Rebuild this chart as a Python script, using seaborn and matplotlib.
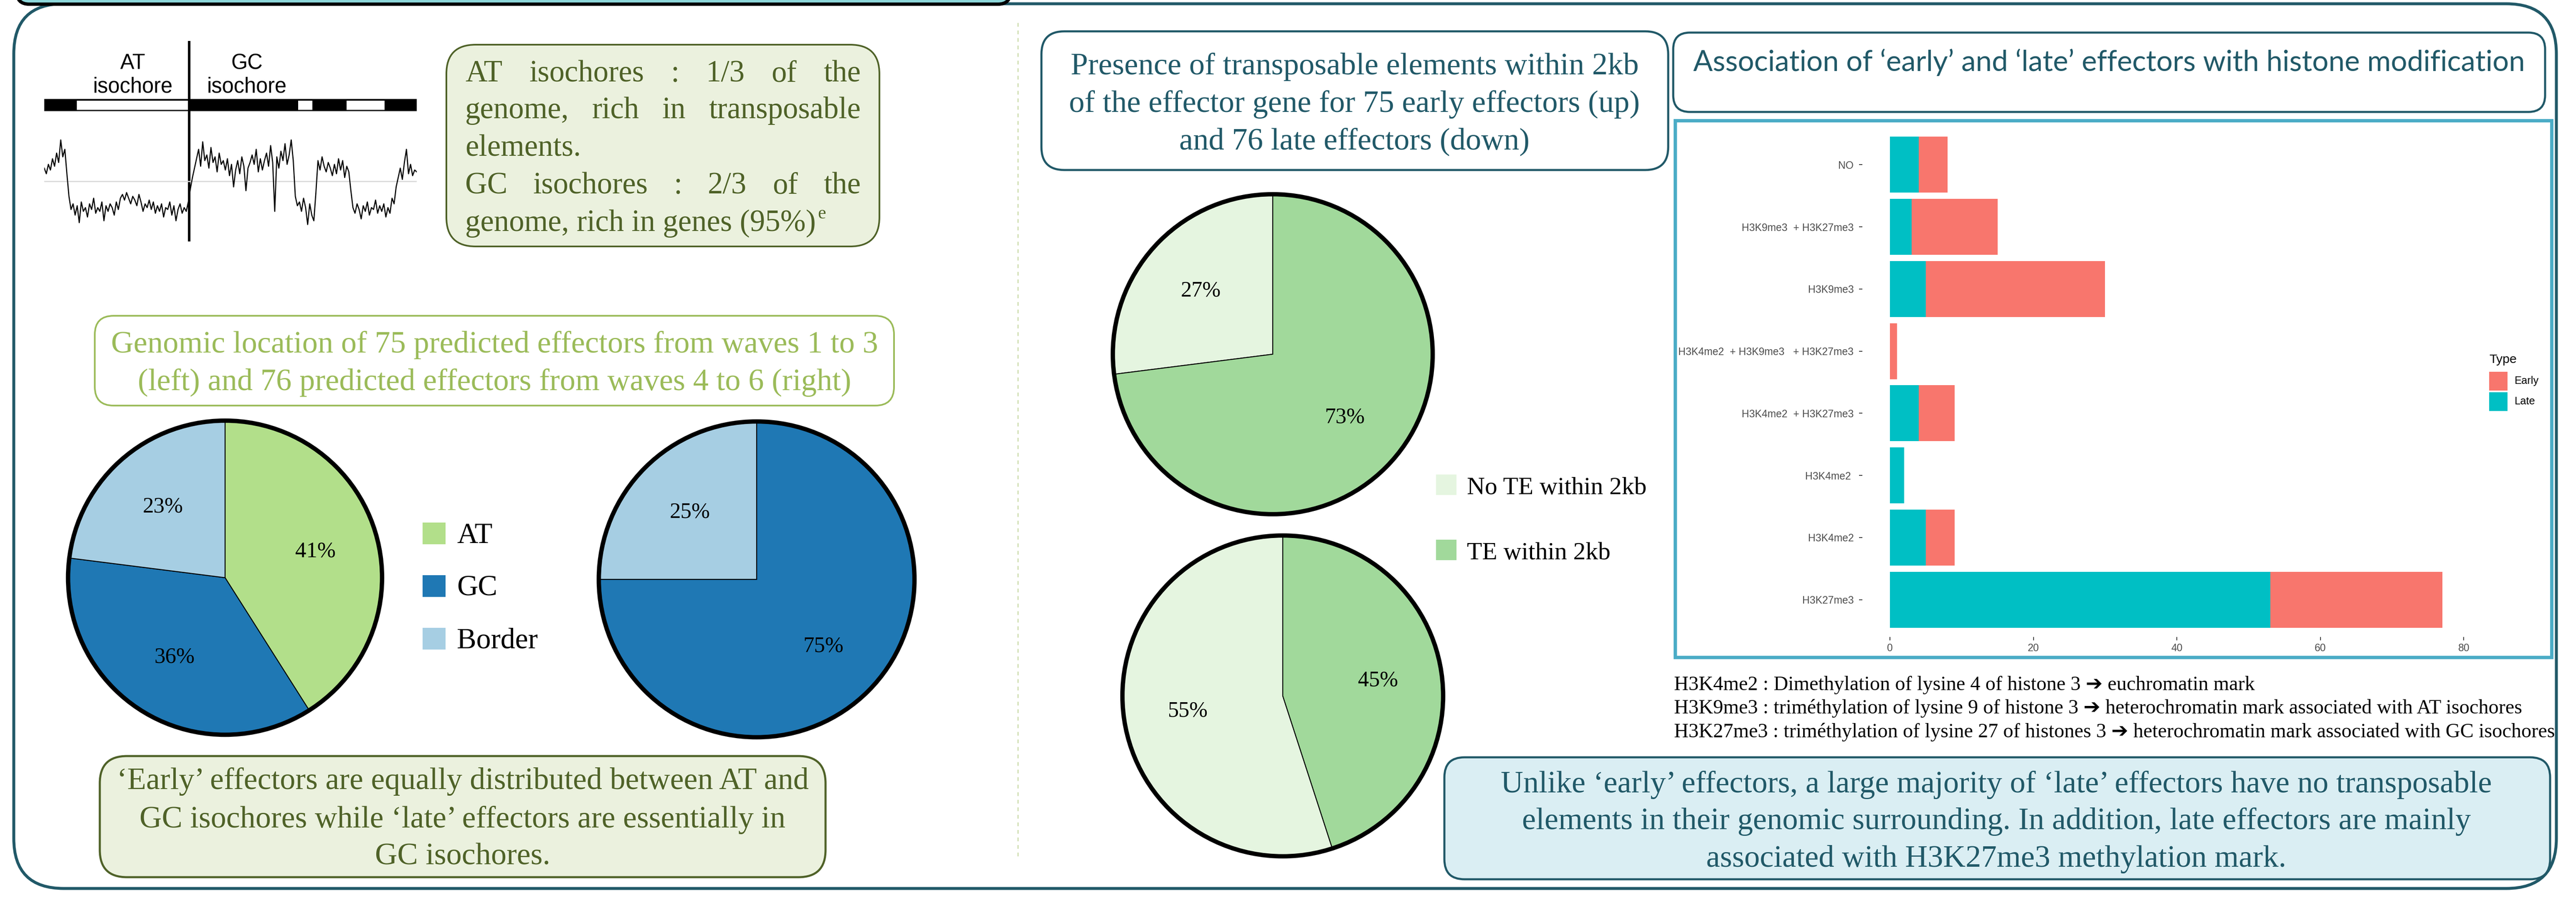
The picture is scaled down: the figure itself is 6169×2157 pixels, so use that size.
import numpy as np
import pandas as pd
import matplotlib
matplotlib.use("Agg")
import matplotlib.pyplot as plt
from matplotlib.patches import FancyBboxPatch, Rectangle, Circle
import seaborn as sns

# ---------------------------------------------------------------- data
iso_categories = ["AT", "GC", "Border"]
early_location_pct = [41, 36, 23]
late_location_pct = [0, 75, 25]

te_categories = ["No TE within 2kb", "TE within 2kb"]
early_te_pct = [27, 73]
late_te_pct = [55, 45]

histone_marks = ["NO", "H3K9me3  + H3K27me3", "H3K9me3",
                 "H3K4me2  + H3K9me3   + H3K27me3", "H3K4me2  + H3K27me3",
                 "H3K4me2 ", "H3K4me2", "H3K27me3"]
late_counts = [4, 3, 5, 0, 4, 2, 5, 53]
early_counts = [4, 12, 25, 1, 5, 0, 4, 24]
count_ticks = [0, 20, 40, 60, 80]

# GC content along the example region (%), and the genome-wide mean
gc_trace = [53.5, 52.0, 54.5, 53.0, 56.0, 54.0, 57.5, 55.0, 61.0, 56.5, 58.5, 52.0, 46.0,
            42.5, 44.0, 41.0, 43.5, 39.0, 44.5, 42.0, 43.0, 40.5, 44.0, 42.5, 45.5, 41.5,
            43.0, 42.0, 44.5, 39.5, 43.5, 42.0, 44.0, 43.0, 41.0, 44.5, 42.5, 45.5, 46.5,
            45.0, 47.0, 45.5, 44.0, 46.0, 45.0, 43.5, 46.5, 44.5, 42.0, 44.0, 43.0, 45.0,
            42.5, 44.5, 41.5, 43.5, 42.0, 44.0, 40.5, 43.0, 42.5, 44.5, 41.0, 43.5, 39.5,
            42.5, 44.0, 41.5, 43.0, 42.0,
            44.5, 48.0, 51.0, 53.5,
            56.0, 58.5, 54.0, 60.5, 55.5, 57.0, 53.5, 59.0, 55.0, 56.5, 52.5, 57.5, 54.5,
            55.5, 53.0, 56.0, 51.5, 54.5, 48.5, 53.0, 55.5, 52.0, 56.5, 54.0, 47.5, 53.5,
            55.0, 57.0, 54.5, 58.5, 52.5, 56.0, 53.0, 55.5, 57.5, 54.0, 59.5, 55.0, 42.0,
            56.5, 53.5, 58.0, 55.5, 60.0, 54.5, 57.0, 61.0, 55.5,
            46.0,
            43.5, 44.5, 42.0, 45.5, 43.0, 38.5, 44.0, 41.0, 39.5,
            47.0,
            55.5, 53.0, 56.5, 54.0, 52.5, 55.0, 53.5, 51.5, 54.5, 52.0, 56.0, 53.0, 55.5,
            51.0, 54.0, 52.5,
            47.5,
            43.0, 41.5, 44.0, 42.5, 40.0, 43.5, 42.0, 44.5, 41.0, 43.0, 42.5, 45.0, 41.5,
            43.5, 42.0, 44.0, 40.5, 43.0, 41.5, 45.5, 44.0,
            48.5,
            51.0, 53.5, 50.5, 55.0, 58.5, 52.0, 54.5, 51.5, 53.0, 52.5]
gc_mean = 50
# isochore map along the same region (% of region length)
at_blocks = [(8.7, 38.6), (68.2, 72.0), (81.2, 91.4)]
isochore_boundary = 38.9

# ---------------------------------------------------------------- style
W, H, DPI = 6169, 2157, 100
SERIF = ["Liberation Serif", "DejaVu Serif", "DejaVu Sans"]
SANS = ["Liberation Sans", "DejaVu Sans"]
TITLE_SANS = ["Lato", "DejaVu Sans"]

TEAL = "#215968"
OLIVE = "#4F6228"
OLIVE_FILL = "#EBF1DE"
LIGHT_GREEN = "#9BBB59"
AQUA = "#4BACC6"
AQUA_FILL = "#DAEEF3"

paired = sns.color_palette("Paired")
iso_colors = {"AT": paired[2], "GC": paired[1], "Border": paired[0]}
te_colors = {"No TE within 2kb": "#E5F5E0", "TE within 2kb": "#A1D99B"}
type_colors = {"Early": "#F8766D", "Late": "#00BFC4"}

fig = plt.figure(figsize=(W / DPI, H / DPI), dpi=DPI)
fig.patch.set_facecolor("white")
bg = fig.add_axes([0, 0, 1, 1])
bg.set_xlim(0, W)
bg.set_ylim(H, 0)
bg.axis("off")
renderer = fig.canvas.get_renderer()


def frac_box(x0, y0, x1, y1):
    return [x0 / W, 1 - y1 / H, (x1 - x0) / W, (y1 - y0) / H]


def measure(s, size, family):
    t = bg.text(0, 0, s, fontsize=size, family=family)
    w = t.get_window_extent(renderer).width
    t.remove()
    return w


def fit(s, target, family):
    return 100 * target / measure(s, 100, family)


def rbox(x0, y0, x1, y1, r, fc, ec, lw_px, z=1):
    bg.add_patch(FancyBboxPatch((x0, y0), x1 - x0, y1 - y0,
                                boxstyle=f"round,pad=0,rounding_size={r}",
                                fc=fc, ec=ec, lw=lw_px * 0.72, zorder=z))


def lines_centered(lines, cx, baselines, size, family, color):
    for s, y in zip(lines, baselines):
        bg.text(cx, y, s, fontsize=size, family=family, color=color,
                ha="center", va="baseline", zorder=5)


def justified(s, x0, x1, y, size, family, color):
    words = s.split()
    widths = [measure(w, size, family) for w in words]
    gap = (x1 - x0 - sum(widths)) / (len(words) - 1)
    x = x0
    for w, wd in zip(words, widths):
        bg.text(x, y, w, fontsize=size, family=family, color=color,
                ha="left", va="baseline", zorder=5)
        x += wd + gap


def draw_pie(cx, cy, r, values, categories, colors, counterclock, size):
    ax = fig.add_axes(frac_box(cx - r, cy - r, cx + r, cy + r))
    keep = [(v, colors[c]) for v, c in zip(values, categories) if v > 0]
    ax.pie([k[0] for k in keep], colors=[k[1] for k in keep], startangle=90,
           counterclock=counterclock, autopct=lambda p: f"{p:.0f}%", pctdistance=0.6,
           wedgeprops=dict(edgecolor="black", linewidth=1.6),
           textprops=dict(fontsize=size, family=SERIF, color="black"))
    ax.add_patch(Circle((0, 0), 1, fill=False, ec="black", lw=7.5, clip_on=False))
    ax.set_xlim(-1, 1)
    ax.set_ylim(-1, 1)
    ax.set_aspect("equal")
    ax.axis("off")
    return ax


# ---------------------------------------------------------------- frame
rbox(33, 9, 6122, 2127, 120, "none", TEAL, 7)
rbox(40, -70, 2420, 10, 30, "#8DD7DA", "black", 8, z=2)
bg.plot([2438, 2438], [55, 2053], color="#B7CE8A", lw=1.3, dashes=(5, 5))

# ---------------------------------------------------------------- isochore sketch
g2px = lambda g: 106 + g * (998 - 106) / 100
bg.add_patch(Rectangle((106, 237), 892, 29, fc="black", ec="none", zorder=2))
for a, b in at_blocks:
    bg.add_patch(Rectangle((g2px(a), 240.5), g2px(b) - g2px(a), 22, fc="white",
                           ec="none", zorder=3))
bg.plot([g2px(isochore_boundary)] * 2, [101, 575], color="black", lw=4.3, zorder=4)
iso_size = fit("isochore", 191, SANS)
for cx, name in [(318, "AT"), (591, "GC")]:
    lines_centered([name, "isochore"], cx, [165, 221], iso_size, SANS, "black")

axg = fig.add_axes(frac_box(106, 299, 998, 569))
sns.lineplot(x=np.linspace(0, 100, len(gc_trace)), y=gc_trace, ax=axg,
             color="black", lw=1.9)
axg.axhline(gc_mean, color="#D9D9D9", lw=2, zorder=0)
axg.set_xlim(0, 100)
axg.set_ylim(35, 65)
axg.axis("off")

# ---------------------------------------------------------------- isochore note
rbox(1069, 107, 2106, 590, 70, OLIVE_FILL, OLIVE, 4)
note_size = fit("elements.", 277, SERIF)
justified("AT isochores : 1/3 of the", 1114, 2061, 195, note_size, SERIF, OLIVE)
justified("genome, rich in transposable", 1114, 2061, 283, note_size, SERIF, OLIVE)
bg.text(1114, 373, "elements.", fontsize=note_size, family=SERIF, color=OLIVE,
        va="baseline")
justified("GC isochores : 2/3 of the", 1114, 2061, 463, note_size, SERIF, OLIVE)
t5 = bg.text(1114, 553, "genome, rich in genes (95%)", fontsize=note_size,
             family=SERIF, color=OLIVE, va="baseline")
x_end = t5.get_window_extent(renderer).x1
bg.text(x_end + 4, 523, "e", fontsize=note_size * 0.6, family=SERIF, color=OLIVE,
        va="baseline")

# ---------------------------------------------------------------- genomic location
rbox(227, 756, 2141, 971, 45, "white", LIGHT_GREEN, 4)
loc_title = ["Genomic location of 75 predicted effectors from waves 1 to 3",
             "(left) and 76 predicted effectors from waves 4 to 6 (right)"]
lines_centered(loc_title, 1184, [844, 934], fit(loc_title[0], 1836, SERIF), SERIF,
               LIGHT_GREEN)

pct_size = fit("23%", 97, SERIF)
draw_pie(539, 1383, 376, early_location_pct, iso_categories, iso_colors, False, pct_size)
draw_pie(1812, 1387, 378, late_location_pct, iso_categories, iso_colors, False, pct_size)

leg_size = fit("Border", 194, SERIF)
for i, cat in enumerate(iso_categories):
    yc = 1277 + i * 126
    bg.add_patch(Rectangle((1012, yc - 26), 55, 52, fc=iso_colors[cat], ec="none"))
    bg.text(1094, yc + 23, cat, fontsize=leg_size, family=SERIF, color="black",
            va="baseline")

rbox(239, 1810, 1977, 2100, 65, OLIVE_FILL, OLIVE, 5)
early_note = ["\u2018Early\u2019 effectors are equally distributed between AT and",
              "GC isochores while \u2018late\u2019 effectors are essentially in",
              "GC isochores."]
lines_centered(early_note, 1108, [1889, 1981, 2069], fit(early_note[0], 1656, SERIF),
               SERIF, OLIVE)

# ---------------------------------------------------------------- transposable elements
rbox(2494, 75, 3995, 407, 55, "white", TEAL, 5)
te_title = ["Presence of transposable elements within 2kb",
            "of the effector gene for 75 early effectors (up)",
            "and 76 late effectors (down)"]
lines_centered(te_title, 3244, [178, 268, 357], fit(te_title[0], 1360, SERIF), SERIF,
               TEAL)

te_pct_size = fit("27%", 96, SERIF)
draw_pie(3048, 848, 383, early_te_pct, te_categories, te_colors, True, te_pct_size)
draw_pie(3072, 1666, 384, late_te_pct, te_categories, te_colors, True, te_pct_size)

te_leg_size = fit("No TE within 2kb", 430, SERIF)
for i, cat in enumerate(te_categories):
    yc = 1161 + i * 156
    bg.add_patch(Rectangle((3439, yc - 25), 49, 49, fc=te_colors[cat], ec="none"))
    bg.text(3513, yc + 22, cat, fontsize=te_leg_size, family=SERIF, color="black",
            va="baseline")

# ---------------------------------------------------------------- histone marks
rbox(4007, 78, 6095, 268, 40, "white", TEAL, 5)
hist_title = "Association of \u2018early\u2019 and \u2018late\u2019 effectors with histone modification"
bg.text(5051, 170, hist_title, fontsize=fit(hist_title, 1992, TITLE_SANS),
        family=TITLE_SANS, color=TEAL, ha="center", va="baseline")

bg.add_patch(Rectangle((4012, 289), 6111 - 4012, 1574 - 289, fc="none", ec=AQUA,
                       lw=8 * 0.72))

hist_df = pd.DataFrame({"mark": histone_marks, "Late": late_counts,
                        "Early": early_counts})
hist_df["total"] = hist_df["Late"] + hist_df["Early"]

axb = fig.add_axes(frac_box(4460, 305, 5915, 1525))
sns.barplot(data=hist_df, x="total", y="mark", order=histone_marks,
            color=type_colors["Early"], saturation=1, width=0.9, linewidth=0,
            errorbar=None, ax=axb)
sns.barplot(data=hist_df, x="Late", y="mark", order=histone_marks,
            color=type_colors["Late"], saturation=1, width=0.9, linewidth=0,
            errorbar=None, ax=axb)
axb.set_xlim(-0.05 * 77, 77 * 1.05)
axb.set_ylim(len(histone_marks) - 0.4, -0.6)
axb.set_xticks(count_ticks)
axb.set_xlabel("")
axb.set_ylabel("")
axb.set_facecolor("none")
for sp in axb.spines.values():
    sp.set_visible(False)
tick_size = fit("H3K4me2  + H3K9me3   + H3K27me3", 418, SANS)
axb.tick_params(axis="both", length=6, width=1.4, color="#333333",
                labelcolor="#4D4D4D", labelsize=tick_size)
axb.tick_params(axis="y", pad=9)
axb.tick_params(axis="x", pad=5)
for lab in axb.get_xticklabels() + axb.get_yticklabels():
    lab.set_family(SANS)

bg.text(5961, 869, "Type", fontsize=fit("Type", 66, SANS), family=SANS,
        color="black", va="baseline")
key_size = fit("Early", 58, SANS)
for i, typ in enumerate(["Early", "Late"]):
    y0 = 890 + i * 49
    bg.add_patch(Rectangle((5961, y0), 44, 45, fc=type_colors[typ], ec="none"))
    bg.text(6022, y0 + 22.5, typ, fontsize=key_size, family=SANS, color="black",
            va="center")

hist_notes = [
    "H3K4me2 : Dimethylation of lysine 4 of histone 3 \u2794 euchromatin mark",
    "H3K9me3 : trim\u00e9thylation of lysine 9 of histone 3 \u2794 heterochromatin mark associated with AT isochores",
    "H3K27me3 : trim\u00e9thylation of lysine 27 of histones 3 \u2794 heterochromatin mark associated with GC isochores",
]
notes_size = fit(hist_notes[2], 2106, SERIF)
for s, y in zip(hist_notes, [1652, 1708, 1765]):
    bg.text(4009, y, s, fontsize=notes_size, family=SERIF, color="black",
            va="baseline")

rbox(3459, 1813, 6107, 2105, 48, AQUA_FILL, TEAL, 5)
late_note = ["Unlike \u2018early\u2019 effectors, a large majority of \u2018late\u2019 effectors have no transposable",
             "elements in their genomic surrounding. In addition, late effectors are mainly",
             "associated with H3K27me3 methylation mark."]
lines_centered(late_note, 4781, [1897, 1985, 2075], fit(late_note[0], 2371, SERIF),
               SERIF, TEAL)

fig.savefig("out.png", dpi=DPI, facecolor="white")
